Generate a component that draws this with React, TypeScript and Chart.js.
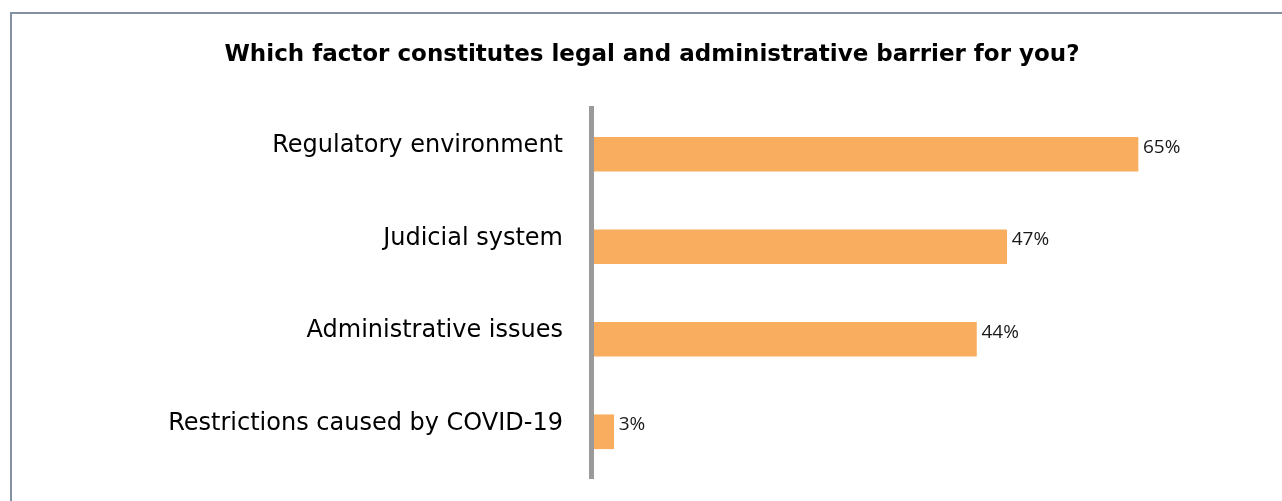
import React, { useEffect, useRef } from "react";
import { Chart, registerables } from "chart.js";

Chart.register(...registerables);

const TITLE = "Which factor constitutes legal and administrative barrier for you?";
const categories = [
  "Regulatory environment",
  "Judicial system",
  "Administrative issues",
  "Restrictions caused by COVID-19",
];
// bar lengths (percentage scale)
const barValues = [65, 49.4, 45.8, 2.7];
// value labels as printed next to the bars
const valueLabels = ["65%", "47%", "44%", "3%"];

const valueLabelPlugin = {
  id: "valueLabels",
  afterDatasetsDraw(chart: any) {
    const ctx = chart.ctx;
    const meta = chart.getDatasetMeta(0);
    ctx.save();
    ctx.font = '19px "Open Sans"';
    ctx.fillStyle = "#1a1a1a";
    ctx.textAlign = "left";
    ctx.textBaseline = "middle";
    meta.data.forEach((bar: any, i: number) => {
      ctx.fillText(valueLabels[i], bar.x + 5, bar.y - 7);
    });
    ctx.restore();
  },
};

export default function App() {
  const ref = useRef<HTMLCanvasElement | null>(null);

  useEffect(() => {
    if (!ref.current) return;
    const chart = new Chart(ref.current, {
      type: "bar",
      data: {
        labels: categories,
        datasets: [
          {
            data: barValues,
            backgroundColor: "#F9AD5E",
            borderWidth: 0,
            barThickness: 34,
          },
        ],
      },
      options: {
        indexAxis: "y",
        responsive: false,
        animation: false,
        layout: { padding: { left: 0, right: 0, top: 0, bottom: 56 } },
        plugins: {
          legend: { display: false },
          tooltip: { enabled: false },
          title: {
            display: true,
            text: TITLE,
            color: "#000",
            font: { family: "DejaVu Sans", size: 23, weight: "bold" },
            padding: { top: 27, bottom: 39.4 },
          },
        },
        scales: {
          x: { display: false, min: 0, max: 83.3 },
          y: {
            afterFit: (s: any) => {
              s.width = 579;
            },
            grid: { display: false, drawTicks: false },
            border: { display: true, color: "#9a9a9a", width: 5, z: 1 },
            ticks: {
              color: "#000",
              font: { family: "DejaVu Sans", size: 24 },
              padding: 28,
              labelOffset: -8,
            },
          },
        },
      },
      plugins: [valueLabelPlugin],
    } as any);
    return () => chart.destroy();
  }, []);

  return (
    <div
      style={{
        position: "fixed",
        left: 10,
        top: 12,
        width: 1300,
        height: 540,
        border: "2px solid #8391a0",
        background: "#fff",
      }}
    >
      <canvas ref={ref} width={1280} height={520} style={{ display: "block" }} />
    </div>
  );
}
